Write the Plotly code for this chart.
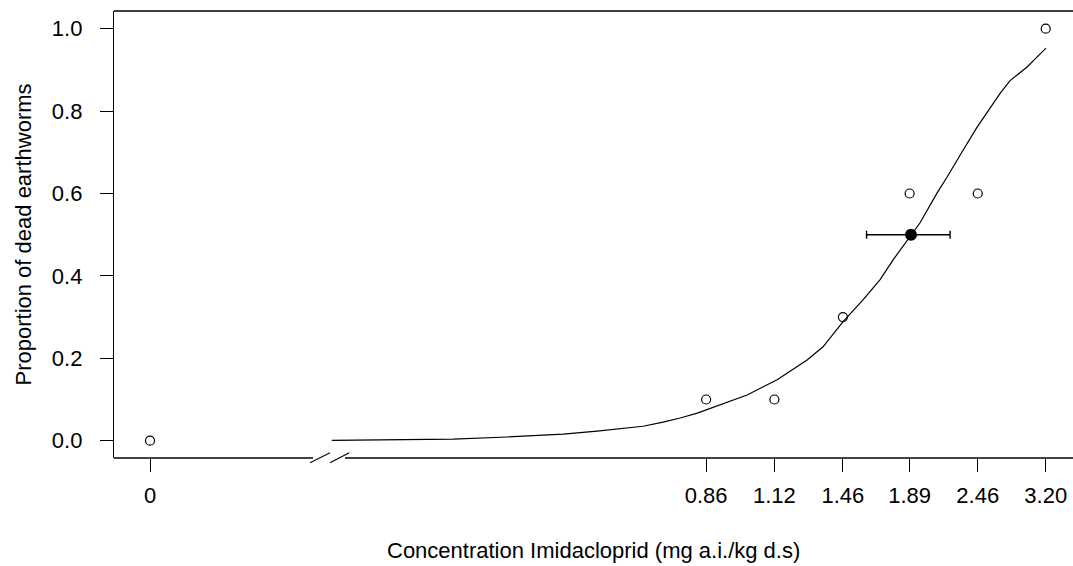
import plotly.graph_objects as go

# ---- data ----
doses = [0, 0.86, 1.12, 1.46, 1.89, 2.46, 3.20]
proportion_dead = [0.0, 0.1, 0.1, 0.3, 0.6, 0.6, 1.0]
zero_dose_position = 0.1          # where the "0" dose is shown on the broken log axis

# fitted dose-response curve
curve_dose = [0.202, 0.323, 0.398, 0.495, 0.564, 0.674, 0.728, 0.778, 0.831, 0.908,
              1.008, 1.132, 1.271, 1.352, 1.461, 1.578, 1.686, 1.773, 1.900, 1.968,
              2.101, 2.185, 2.324, 2.454, 2.682, 2.788, 2.977, 3.204]
curve_response = [0.001, 0.004, 0.009, 0.016, 0.023, 0.035, 0.045, 0.055, 0.067, 0.087,
                  0.111, 0.148, 0.196, 0.228, 0.289, 0.342, 0.391, 0.439, 0.500, 0.529,
                  0.601, 0.640, 0.705, 0.761, 0.843, 0.874, 0.907, 0.953]

# ED50 with confidence interval
ed50 = 1.90
ed50_lower = 1.60
ed50_upper = 2.21
ed50_response = 0.5

x_tick_labels = ["0", "0.86", "1.12", "1.46", "1.89", "2.46", "3.20"]
y_tick_values = [0.0, 0.2, 0.4, 0.6, 0.8, 1.0]
y_tick_labels = ["0.0", "0.2", "0.4", "0.6", "0.8", "1.0"]

x_title = "Concentration Imidacloprid (mg a.i./kg d.s)"
y_title = "Proportion of dead earthworms"

# ---- figure ----
FONT = "Liberation Sans, Arial, sans-serif"
W, H = 1073, 566
ML, MR, MT, MB = 114, 0, 11, 108
PW, PH = W - ML - MR, H - MT - MB

x_plot = [zero_dose_position if d == 0 else d for d in doses]
x_tick_vals = [zero_dose_position if d == 0 else d for d in doses]

fig = go.Figure()

fig.add_trace(go.Scatter(
    x=curve_dose, y=curve_response, mode="lines",
    line=dict(color="black", width=1.2), hoverinfo="skip", showlegend=False))

fig.add_trace(go.Scatter(
    x=x_plot, y=proportion_dead, mode="markers",
    marker=dict(symbol="circle-open", size=9, color="black", line=dict(width=1.2)),
    showlegend=False))

fig.add_trace(go.Scatter(
    x=[ed50], y=[ed50_response], mode="markers",
    marker=dict(symbol="circle", size=12, color="black"),
    error_x=dict(type="data", symmetric=False,
                 array=[ed50_upper - ed50], arrayminus=[ed50 - ed50_lower],
                 color="black", thickness=1.4, width=4),
    showlegend=False))

def px_x(p):
    return (p - ML) / PW

def px_y(p):
    return (H - MB - p) / PH

line_style = dict(color="black", width=1.4)
shapes = [
    # top border
    dict(type="line", xref="paper", yref="paper", x0=0, x1=1, y0=1, y1=1, line=line_style),
    # bottom border, broken
    dict(type="line", xref="paper", yref="paper", x0=0, x1=px_x(313), y0=0, y1=0, line=line_style),
    dict(type="line", xref="paper", yref="paper", x0=px_x(345), x1=1, y0=0, y1=0, line=line_style),
    # break marks
    dict(type="line", xref="paper", yref="paper", x0=px_x(310), x1=px_x(330),
         y0=px_y(462.7), y1=px_y(452.7), line=dict(color="black", width=1.2)),
    dict(type="line", xref="paper", yref="paper", x0=px_x(330), x1=px_x(349.3),
         y0=px_y(462.7), y1=px_y(452.7), line=dict(color="black", width=1.2)),
]

fig.update_layout(
    width=W, height=H,
    margin=dict(l=ML, r=MR, t=MT, b=MB, pad=0),
    paper_bgcolor="white", plot_bgcolor="white",
    font=dict(family=FONT, size=22, color="black"),
    shapes=shapes,
    annotations=[
        dict(text=x_title, xref="paper", yref="paper", x=0.5, y=0, xanchor="center",
             yanchor="middle", yshift=-92, showarrow=False, font=dict(size=22)),
        dict(text=y_title, xref="paper", yref="paper", x=0, y=0.5, xanchor="center",
             yanchor="middle", xshift=23 - ML, textangle=-90, showarrow=False,
             font=dict(size=22)),
    ],
)

fig.update_xaxes(
    type="log", range=[-1.0605, 0.5510],
    tickvals=x_tick_vals, ticktext=x_tick_labels,
    ticks="outside", ticklen=13, tickwidth=1.4, tickcolor="black",
    showline=False, showgrid=False, zeroline=False,
    ticklabelstandoff=5,
)
fig.update_yaxes(
    range=[-0.042, 1.043],
    tickvals=y_tick_values, ticktext=y_tick_labels,
    ticks="outside", ticklen=13, tickwidth=1.4, tickcolor="black",
    showline=True, linecolor="black", linewidth=1.4, mirror=False,
    showgrid=False, zeroline=False,
    ticklabelstandoff=13,
)

fig.write_html("out.html",
               config={"displayModeBar": False},
               post_script="document.body.style.margin='0px';document.body.style.overflow='hidden';")
